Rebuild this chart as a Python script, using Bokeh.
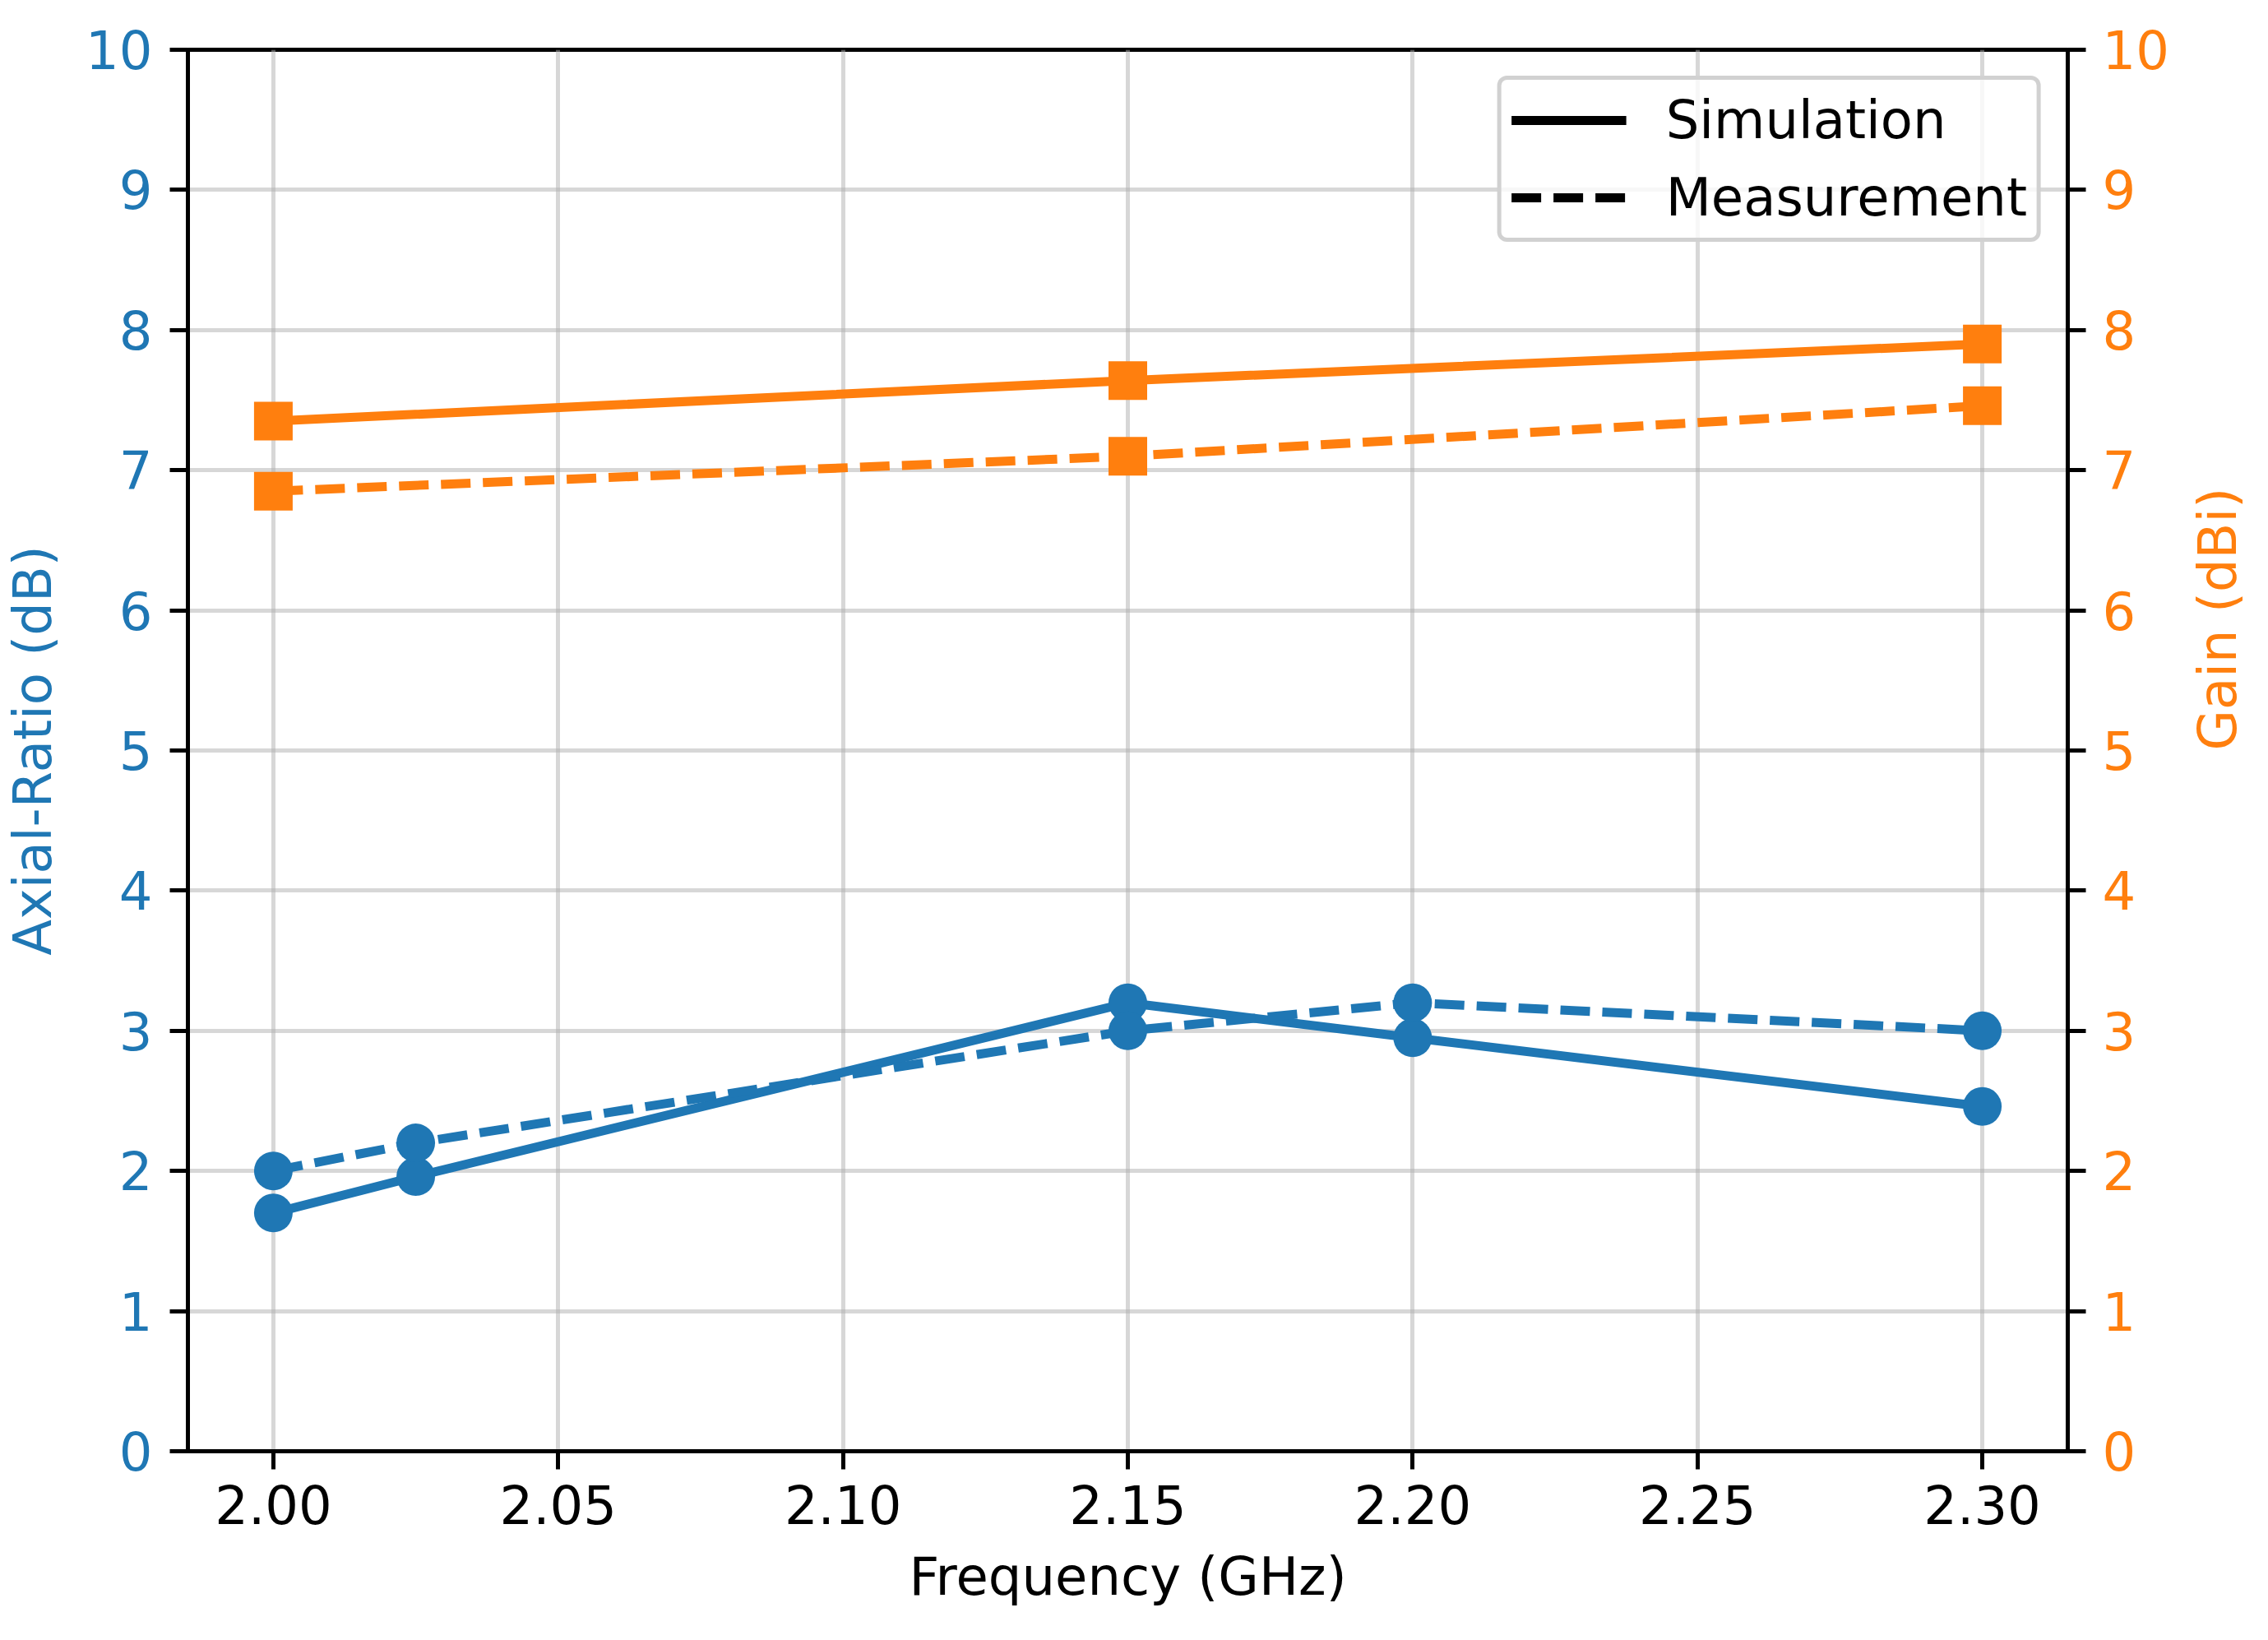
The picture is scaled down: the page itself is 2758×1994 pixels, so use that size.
import math
from bokeh.plotting import figure
from bokeh.models import Range1d, LinearAxis, FixedTicker, Legend, LegendItem
from bokeh.embed import file_html
from bokeh.resources import INLINE

# ---- data ----
freq_ar = [2.000, 2.025, 2.150, 2.200, 2.300]
ar_sim = [1.70, 1.96, 3.20, 2.95, 2.46]
ar_meas = [2.00, 2.20, 3.00, 3.20, 3.00]

freq_gain = [2.00, 2.15, 2.30]
gain_sim = [7.35, 7.64, 7.90]
gain_meas = [6.85, 7.10, 7.46]

x_ticks = [2.00, 2.05, 2.10, 2.15, 2.20, 2.25, 2.30]
x_tick_labels = ["2.00", "2.05", "2.10", "2.15", "2.20", "2.25", "2.30"]
y_ticks = [0, 1, 2, 3, 4, 5, 6, 7, 8, 9, 10]

legend_labels = ["Simulation", "Measurement"]

BLUE = "#1f77b4"
ORANGE = "#ff7f0e"
FONT = "DejaVu Sans"
FS = "64px"
LW = 11
DASH = "36 15"
MS = 47

p = figure(frame_width=2286, frame_height=1704, output_backend="svg", toolbar_location=None,
           x_range=Range1d(1.985, 2.315), y_range=Range1d(0, 10),
           min_border_left=223, min_border_right=225,
           min_border_top=60, min_border_bottom=205)
p.extra_y_ranges = {"gain": Range1d(0, 10)}
right_axis = LinearAxis(y_range_name="gain", axis_label="Gain (dBi)")
p.add_layout(right_axis, "right")

p.xaxis.axis_label = "Frequency (GHz)"
p.yaxis[0].axis_label = "Axial-Ratio (dB)"

for ax in [p.xaxis[0], p.yaxis[0], right_axis]:
    ax.axis_line_color = "black"
    ax.axis_line_width = 5
    ax.major_tick_line_color = "black"
    ax.major_tick_line_width = 5
    ax.major_tick_out = 22
    ax.major_tick_in = 0
    ax.minor_tick_line_color = None
    ax.major_label_text_font = FONT
    ax.major_label_text_font_size = FS
    ax.axis_label_text_font = FONT
    ax.axis_label_text_font_size = FS
    ax.axis_label_text_font_style = "normal"

p.xaxis.ticker = FixedTicker(ticks=x_ticks)
p.xaxis.major_label_overrides = {t: s for t, s in zip(x_ticks, x_tick_labels)}
p.xaxis.major_label_standoff = 19
p.xaxis.axis_label_standoff = 24
p.xaxis.major_label_text_color = "black"
p.xaxis.axis_label_text_color = "black"

p.yaxis[0].ticker = FixedTicker(ticks=y_ticks)
p.yaxis[0].major_label_standoff = 21
p.yaxis[0].axis_label_standoff = 24
p.yaxis[0].major_label_text_color = BLUE
p.yaxis[0].axis_label_text_color = BLUE

right_axis.ticker = FixedTicker(ticks=y_ticks)
right_axis.major_label_standoff = 20
right_axis.axis_label_standoff = 56
right_axis.major_label_text_color = ORANGE
right_axis.axis_label_text_color = ORANGE
right_axis.axis_label_orientation = math.pi / 2

p.xgrid.ticker = FixedTicker(ticks=x_ticks)
p.ygrid.ticker = FixedTicker(ticks=y_ticks)
for g in [p.xgrid[0], p.ygrid[0]]:
    g.grid_line_color = "#b0b0b0"
    g.grid_line_alpha = 0.5
    g.grid_line_width = 5

p.outline_line_color = "black"
p.outline_line_width = 5
p.outline_line_alpha = 1.0

# Axial ratio (left axis)
p.line(freq_ar, ar_sim, line_color=BLUE, line_width=LW)
p.scatter(freq_ar, ar_sim, marker="circle", size=MS, fill_color=BLUE, line_color=None)
p.line(freq_ar, ar_meas, line_color=BLUE, line_width=LW, line_dash=DASH)
p.scatter(freq_ar, ar_meas, marker="circle", size=MS, fill_color=BLUE, line_color=None)

# Gain (right axis)
p.line(freq_gain, gain_sim, line_color=ORANGE, line_width=LW, y_range_name="gain")
p.scatter(freq_gain, gain_sim, marker="square", size=MS, fill_color=ORANGE, line_color=None,
          y_range_name="gain")
p.line(freq_gain, gain_meas, line_color=ORANGE, line_width=LW, line_dash=DASH, y_range_name="gain")
p.scatter(freq_gain, gain_meas, marker="square", size=MS, fill_color=ORANGE, line_color=None,
          y_range_name="gain")

# legend keys (black, no visible data)
nan2 = [float("nan"), float("nan")]
key_sim = p.line(nan2, nan2, line_color="black", line_width=LW)
key_meas = p.line(nan2, nan2, line_color="black", line_width=LW, line_dash=DASH)

legend = Legend(items=[LegendItem(label=legend_labels[0], renderers=[key_sim]),
                       LegendItem(label=legend_labels[1], renderers=[key_meas])],
                location="top_right")
legend.margin = 32
legend.padding = 12
legend.spacing = 20
legend.glyph_width = 140
legend.glyph_height = 72
legend.label_standoff = 48
legend.label_text_font = FONT
legend.label_text_font_size = FS
legend.label_text_color = "black"
legend.label_height = 72
legend.border_line_color = "#cccccc"
legend.border_line_alpha = 0.9
legend.border_line_width = 5
legend.background_fill_color = "white"
legend.background_fill_alpha = 0.8
if "border_radius" in Legend.properties():
    legend.border_radius = 12
p.add_layout(legend)

open("out.html", "w").write(file_html(p, INLINE))
